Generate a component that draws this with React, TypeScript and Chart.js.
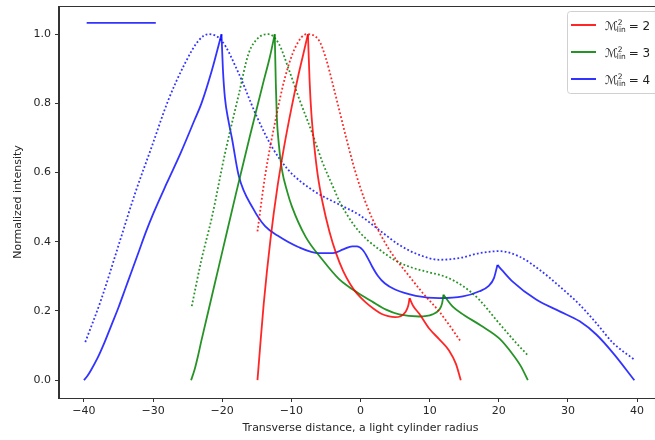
import React, { useEffect, useRef } from 'react';
import { Chart, registerables } from 'chart.js';

Chart.register(...registerables);

const xTicks = [-40, -30, -20, -10, 0, 10, 20, 30, 40];
const yTicks = [0, 0.2, 0.4, 0.6, 0.8, 1.0];

const redSolidX = [-14.9, -14.5, -14.0, -13.0, -12.0, -11.0, -10.0, -9.0, -8.3, -7.6, -7.35, -7.1, -6.7, -6.2, -5.5, -4.5, -3.5, -2.5, -1.5, -0.5, 0.75, 2.0, 3.0, 4.0, 5.0, 5.8, 6.5, 6.9, 7.1, 7.6, 8.5, 9.9, 11.4, 12.8, 13.8, 14.5];
const redSolidY = [0.0, 0.1, 0.22, 0.41, 0.56, 0.68, 0.785, 0.88, 0.94, 1.0, 0.86, 0.77, 0.68, 0.595, 0.515, 0.43, 0.365, 0.315, 0.278, 0.25, 0.225, 0.205, 0.192, 0.185, 0.182, 0.185, 0.197, 0.215, 0.237, 0.215, 0.192, 0.15, 0.118, 0.086, 0.047, 0.0];

const redDotX = [-14.9, -13.8, -12.3, -10.9, -9.4, -7.8, -6.0, -5.0, -4.0, -3.0, -2.0, -1.0, 0.0, 1.0, 1.7, 2.7, 4.1, 5.1, 6.6, 9.0, 11.4, 14.5];
const redDotY = [0.43, 0.59, 0.751, 0.876, 0.963, 1.0, 0.982, 0.93, 0.855, 0.775, 0.695, 0.62, 0.555, 0.5, 0.467, 0.428, 0.379, 0.35, 0.312, 0.252, 0.198, 0.112];

const greenSolidX = [-24.5, -24.0, -23.5, -23.0, -22.0, -21.0, -20.0, -18.0, -16.0, -14.0, -13.1, -12.4, -12.25, -12.1, -11.8, -11.35, -10.6, -9.9, -7.95, -5.5, -3.1, -1.7, -0.2, 1.7, 3.7, 5.6, 8.5, 10.4, 11.4, 11.8, 12.0, 13.3, 15.0, 17.4, 20.1, 22.0, 23.2, 24.2];
const greenSolidY = [0.0, 0.03, 0.07, 0.115, 0.2, 0.285, 0.37, 0.54, 0.705, 0.865, 0.935, 1.0, 0.86, 0.76, 0.68, 0.607, 0.545, 0.501, 0.415, 0.348, 0.292, 0.27, 0.25, 0.227, 0.204, 0.19, 0.184, 0.19, 0.204, 0.222, 0.247, 0.213, 0.188, 0.158, 0.12, 0.075, 0.04, 0.0];

const greenDotX = [-24.4, -23.0, -21.5, -19.6, -17.6, -16.2, -14.7, -13.3, -11.8, -10.4, -8.9, -7.0, -5.5, -4.0, -3.0, -2.0, -1.0, 0.0, 1.0, 2.7, 5.1, 7.5, 9.9, 12.4, 14.8, 17.2, 19.6, 22.5, 24.2];
const greenDotY = [0.214, 0.348, 0.47, 0.655, 0.826, 0.943, 0.991, 1.0, 0.972, 0.9, 0.815, 0.715, 0.63, 0.56, 0.515, 0.48, 0.45, 0.425, 0.405, 0.378, 0.345, 0.325, 0.312, 0.298, 0.272, 0.232, 0.175, 0.108, 0.072];

const blueSolidX = [-40.0, -39.5, -39.0, -38.0, -37.0, -36.0, -35.0, -34.0, -33.0, -32.0, -31.0, -30.0, -28.0, -26.0, -24.0, -23.0, -21.5, -20.1, -19.9, -19.6, -19.1, -18.6, -17.6, -15.5, -13.8, -12.0, -9.0, -6.0, -4.0, -2.5, -1.2, -0.5, 0.3, 1.0, 1.7, 2.5, 3.5, 5.0, 8.0, 11.4, 14.8, 17.2, 18.5, 19.3, 19.8, 20.6, 22.0, 25.4, 28.8, 31.7, 34.1, 36.5, 39.6];
const blueSolidY = [0.0, 0.012, 0.028, 0.065, 0.11, 0.16, 0.21, 0.265, 0.32, 0.375, 0.43, 0.48, 0.57, 0.657, 0.752, 0.80, 0.895, 1.0, 0.9, 0.815, 0.75, 0.7, 0.59, 0.495, 0.445, 0.418, 0.385, 0.367, 0.367, 0.378, 0.387, 0.387, 0.377, 0.355, 0.328, 0.302, 0.28, 0.262, 0.244, 0.237, 0.242, 0.257, 0.272, 0.295, 0.333, 0.315, 0.285, 0.233, 0.199, 0.170, 0.132, 0.079, 0.0];

const blueDotX = [-39.8, -37.5, -35.05, -32.6, -30.2, -27.8, -25.4, -23.4, -22.0, -20.1, -17.6, -15.2, -12.8, -10.4, -7.0, -3.1, -0.2, 2.7, 5.6, 8.5, 11.4, 14.3, 17.2, 20.1, 23.0, 25.9, 28.8, 31.7, 34.1, 36.5, 39.55];
const blueDotY = [0.110, 0.233, 0.386, 0.540, 0.674, 0.809, 0.915, 0.982, 1.0, 0.982, 0.886, 0.771, 0.674, 0.607, 0.550, 0.508, 0.478, 0.434, 0.391, 0.362, 0.348, 0.353, 0.367, 0.373, 0.357, 0.319, 0.271, 0.218, 0.165, 0.108, 0.060];

const blueTopX = [-39.6, -29.6];
const blueTopY = [1.033, 1.033];

const legendValues = ['2', '3', '4'];

const RED = 'rgba(255,0,0,0.85)';
const GREEN = 'rgba(0,128,0,0.85)';
const BLUE = 'rgba(0,0,255,0.8)';
const legendColors = [RED, GREEN, BLUE];

const FONT = "'DejaVu Sans', sans-serif";

function pts(xs: number[], ys: number[]) {
  return xs.map((x, i) => ({ x, y: ys[i] }));
}

// split a curve into pieces at its sharp cusps (strict local maxima)
function splitAtCusps(xs: number[], ys: number[]) {
  const pieces: { x: number; y: number }[][] = [];
  let cur: { x: number; y: number }[] = [];
  for (let i = 0; i < xs.length; i++) {
    cur.push({ x: xs[i], y: ys[i] });
    if (i > 0 && i < xs.length - 1 && ys[i] > ys[i - 1] && ys[i] > ys[i + 1]) {
      pieces.push(cur);
      cur = [{ x: xs[i], y: ys[i] }];
    }
  }
  pieces.push(cur);
  return pieces;
}

function fmtX(v: number) {
  return v < 0 ? '\u2212' + Math.abs(v) : String(v);
}

const framePlugin = {
  id: 'frameAndLegend',
  afterDraw(chart: any) {
    const ctx = chart.ctx;
    const a = chart.chartArea;
    ctx.save();
    ctx.strokeStyle = '#333';
    ctx.lineWidth = 1;
    ctx.strokeRect(Math.round(a.left) - 0.5, Math.round(a.top) + 0.5, a.right - a.left, a.bottom - a.top);

    // legend
    const bx = 567.5, by = 11.5, bw = 110, bh = 82, r = 3;
    ctx.beginPath();
    ctx.moveTo(bx + r, by);
    ctx.lineTo(bx + bw - r, by);
    ctx.quadraticCurveTo(bx + bw, by, bx + bw, by + r);
    ctx.lineTo(bx + bw, by + bh - r);
    ctx.quadraticCurveTo(bx + bw, by + bh, bx + bw - r, by + bh);
    ctx.lineTo(bx + r, by + bh);
    ctx.quadraticCurveTo(bx, by + bh, bx, by + bh - r);
    ctx.lineTo(bx, by + r);
    ctx.quadraticCurveTo(bx, by, bx + r, by);
    ctx.closePath();
    ctx.fillStyle = 'rgba(255,255,255,0.8)';
    ctx.fill();
    ctx.strokeStyle = '#d0d0d0';
    ctx.stroke();

    legendValues.forEach((val, i) => {
      const ly = 25 + i * 27;
      ctx.strokeStyle = legendColors[i];
      ctx.lineWidth = 2;
      ctx.setLineDash([]);
      ctx.beginPath();
      ctx.moveTo(571, ly);
      ctx.lineTo(596, ly);
      ctx.stroke();

      ctx.fillStyle = '#222';
      ctx.textBaseline = 'alphabetic';
      ctx.textAlign = 'left';
      let x = 605;
      ctx.font = `italic 12px ${FONT}`;
      ctx.fillText('\u2133', x, ly + 5);
      x += ctx.measureText('\u2133').width - 1;
      ctx.font = `7.5px ${FONT}`;
      ctx.fillText('2', x + 1, ly - 0.5);
      ctx.fillText('lin', x, ly + 6.5);
      x += ctx.measureText('lin').width + 3;
      ctx.font = `12px ${FONT}`;
      ctx.fillText('= ' + val, x, ly + 5);
    });
    ctx.restore();
  },
};

export default function App() {
  const ref = useRef<HTMLCanvasElement>(null);

  useEffect(() => {
    document.body.style.margin = '0';
    document.body.style.overflow = 'hidden';
    const canvas = ref.current;
    if (!canvas) return;

    const lineDs = (label: string, data: { x: number; y: number }[], color: string) => ({
      label,
      data,
      borderColor: color,
      backgroundColor: color,
      borderWidth: 1.8,
      pointRadius: 0,
      showLine: true,
      fill: false,
      cubicInterpolationMode: 'monotone' as const,
    });
    const solid = (label: string, xs: number[], ys: number[], color: string) =>
      splitAtCusps(xs, ys).map((piece, k) => lineDs(label + ' ' + k, piece, color));
    const dotted = (label: string, xs: number[], ys: number[], color: string) => ({
      ...lineDs(label, pts(xs, ys), color),
      borderDash: [1.8, 2.2],
      borderCapStyle: 'butt' as const,
    });

    const chart = new Chart(canvas, {
      type: 'scatter',
      data: {
        datasets: [
          ...solid('M2 solid', redSolidX, redSolidY, RED),
          dotted('M2 dotted', redDotX, redDotY, RED),
          ...solid('M3 solid', greenSolidX, greenSolidY, GREEN),
          dotted('M3 dotted', greenDotX, greenDotY, GREEN),
          ...solid('M4 solid', blueSolidX, blueSolidY, BLUE),
          dotted('M4 dotted', blueDotX, blueDotY, BLUE),
          lineDs('top', pts(blueTopX, blueTopY), BLUE),
        ],
      },
      options: {
        animation: false,
        responsive: false,
        devicePixelRatio: 1,
        layout: { padding: { left: 0, top: 6, right: 8, bottom: 0 } },
        plugins: {
          legend: { display: false },
          tooltip: { enabled: false },
        },
        scales: {
          x: {
            type: 'linear',
            min: -43.6,
            max: 43.6,
            afterBuildTicks: (s: any) => {
              s.ticks = xTicks.map((v) => ({ value: v }));
            },
            afterFit: (s: any) => {
              s.height = 42;
              s.paddingLeft = 0;
              s.paddingRight = 0;
              s.paddingTop = 0;
              s.paddingBottom = 0;
            },
            ticks: {
              callback: (v: any) => fmtX(Number(v)),
              font: { family: FONT, size: 11 },
              color: '#262626',
              padding: 3,
              maxRotation: 0,
              autoSkip: false,
            },
            grid: { drawOnChartArea: false, drawTicks: true, tickLength: 4, color: '#333' },
            border: { display: true, color: '#333' },
            title: {
              display: true,
              text: 'Transverse distance, a light cylinder radius',
              font: { family: FONT, size: 11 },
              color: '#262626',
              padding: { top: 0, bottom: 5 },
            },
          },
          y: {
            type: 'linear',
            min: -0.0515,
            max: 1.0815,
            afterBuildTicks: (s: any) => {
              s.ticks = yTicks.map((v) => ({ value: v }));
            },
            afterFit: (s: any) => {
              s.width = 59;
              s.paddingLeft = 0;
              s.paddingRight = 0;
              s.paddingTop = 0;
              s.paddingBottom = 0;
            },
            ticks: {
              callback: (v: any) => Number(v).toFixed(1),
              font: { family: FONT, size: 11 },
              color: '#262626',
              padding: 4,
              autoSkip: false,
            },
            grid: { drawOnChartArea: false, drawTicks: true, tickLength: 4, color: '#333' },
            border: { display: true, color: '#333' },
            title: {
              display: true,
              text: 'Normalized intensity',
              font: { family: FONT, size: 11 },
              color: '#262626',
              padding: { top: 12, bottom: 0 },
            },
          },
        },
      },
      plugins: [framePlugin],
    });

    return () => chart.destroy();
  }, []);

  return (
    <div style={{ position: 'absolute', left: 0, top: 0, width: 655, height: 440, overflow: 'hidden', background: '#fff' }}>
      <canvas ref={ref} width={670} height={440} style={{ display: 'block', width: 670, height: 440 }} />
    </div>
  );
}
